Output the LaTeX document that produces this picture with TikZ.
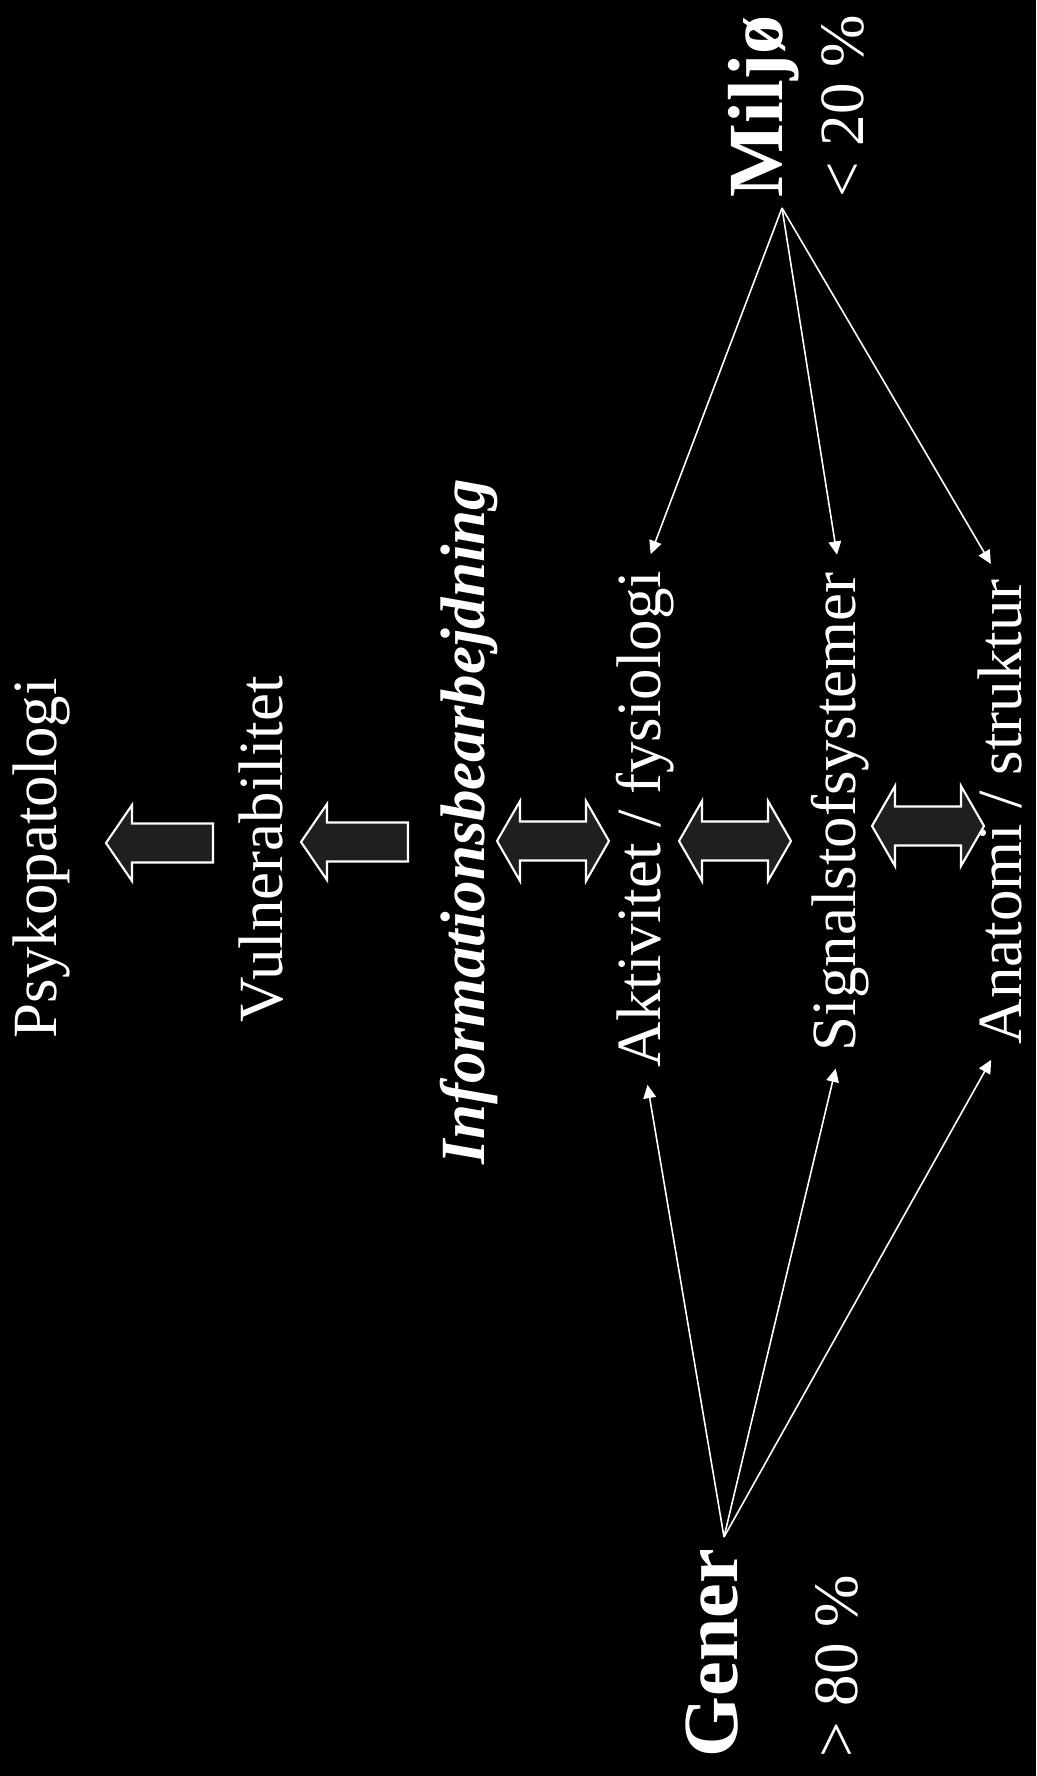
\documentclass[tikz,border=0pt]{standalone}
\usepackage{fontspec}
\setmainfont{Liberation Serif}
\usetikzlibrary{arrows.meta}

\tikzset{
  lbl/.style={text=white, inner sep=0pt, rotate=90, anchor=base west,
    font=\fontsize{17.9}{20}\selectfont},
  big/.style={lbl, font=\fontsize{22.2}{26}\selectfont\bfseries},
  link/.style={draw=white, line width=0.45pt,
    -{Triangle[length=3.8pt,width=3.6pt]}, shorten >=0.17cm},
  blockarrow/.style={draw=white, line width=0.6pt, fill=black!88!white},
  % block arrows, tip at the pic origin
  sarrow/.pic={\path[blockarrow] (0,0) -- (26,38) -- (26,19.5) -- (107,19.5)
    -- (107,-19.5) -- (26,-19.5) -- (26,-38) -- cycle;},
  darrow/.pic={\path[blockarrow] (0,0) -- (23,40) -- (23,19.5) -- (89,19.5)
    -- (89,40) -- (112,0) -- (89,-40) -- (89,-19.5) -- (23,-19.5)
    -- (23,-40) -- cycle;},
}

\begin{document}
\begin{tikzpicture}[x=0.01cm, y=-0.01cm]
  \useasboundingbox (0,0) rectangle (1036,1776);
  \fill[black] (0,0) rectangle (1036,1776);

  % levels
  \node[lbl] (psy) at (57,1039) {Psykopatologi};
  \node[lbl] (vul) at (282,1023) {Vulnerabilitet};
  \node[lbl, font=\fontsize{17.9}{20}\selectfont\bfseries\itshape] (inf) at (484,1165) {Informationsbearbejdning};
  \node[lbl] (akt) at (660,1068) {Aktivitet / fysiologi};
  \node[lbl] (sig) at (855,1052) {Signalstofsystemer};
  \node[lbl] (ana) at (1021,1045) {Anatomi / struktur};

  % sources
  \node[big] (gen) at (737,1758) {Gener};
  \node[lbl] (genpct) at (857,1758) {> 80 \%};
  \node[big] (mil) at (782,198) {Miljø};
  \node[lbl] (milpct) at (863,198) {< 20 \%};
  \coordinate (gsrc) at (724,1537);
  \coordinate (msrc) at (782,208);

  % block arrows between levels
  \pic at (106,843) {sarrow};
  \pic at (301,842) {sarrow};
  \pic at (497,841) {darrow};
  \pic at (679,841) {darrow};
  \pic at (872,826) {darrow};

  \draw[link] (gsrc) -- (akt.west);
  \draw[link] (gsrc) -- (sig.west);
  \draw[link] (gsrc) -- (ana.west);
  \draw[link] (msrc) -- (akt.east);
  \draw[link] (msrc) -- (sig.east);
  \draw[link] (msrc) -- (ana.east);
\end{tikzpicture}
\end{document}
